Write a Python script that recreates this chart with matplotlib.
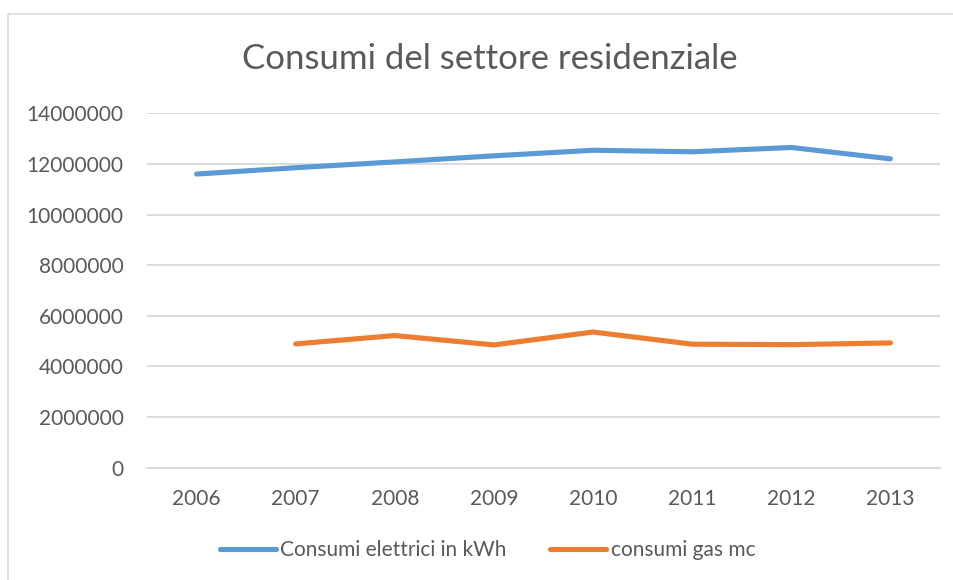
"""Consumi del settore residenziale - linee elettrico e gas"""

import numpy as np
import matplotlib
matplotlib.use("Agg")
import matplotlib.pyplot as plt
from matplotlib.patches import Rectangle

years = ["2006", "2007", "2008", "2009", "2010", "2011", "2012", "2013"]
elettrici_kwh = [11600000, 11850000, 12080000, 12320000, 12540000, 12480000, 12650000, 12200000]
gas_mc = [np.nan, 4890000, 5220000, 4850000, 5360000, 4880000, 4860000, 4930000]
yticks = [0, 2000000, 4000000, 6000000, 8000000, 10000000, 12000000, 14000000]


def main():
    plt.rcParams["font.family"] = ["Lato", "DejaVu Sans"]
    fig = plt.figure(figsize=(9.54, 5.8), dpi=100)
    fig.patches.append(Rectangle((8.5 / 954, -0.1), 1.2, 1.1 - 14.5 / 580,
                                 transform=fig.transFigure, fill=False,
                                 edgecolor="#d9d9d9", linewidth=1.2))

    ax = fig.add_axes([147 / 954, 1 - 467.7 / 580, 793 / 954, 354.4 / 580])
    x = np.arange(len(years))
    ax.plot(x, elettrici_kwh, color="#5b9bd5", linewidth=3.7,
            solid_capstyle="round", label="Consumi elettrici in kWh")
    ax.plot(x, gas_mc, color="#ed7d31", linewidth=3.7,
            solid_capstyle="round", label="consumi gas mc")

    ax.set_xlim(-0.5, len(years) - 0.5)
    ax.set_ylim(0, 14000000)
    ax.set_xticks(x)
    ax.set_xticklabels(years)
    ax.set_yticks(yticks)
    ax.set_yticklabels([str(v) for v in yticks])
    ax.tick_params(length=0, labelsize=15, labelcolor="#595959")
    ax.tick_params(axis="x", pad=15)
    ax.tick_params(axis="y", pad=17)
    ax.grid(axis="y", color="#d9d9d9", linewidth=1.3)
    ax.set_axisbelow(True)
    for side in ["top", "right", "left"]:
        ax.spines[side].set_visible(False)
    ax.spines["bottom"].set_color("#d9d9d9")
    ax.spines["bottom"].set_linewidth(1.3)

    fig.text(0.513, 0.898, "Consumi del settore residenziale", ha="center", va="center",
             fontsize=25, color="#595959")

    fig.legend(loc="center", bbox_to_anchor=(0.511, 0.052), ncol=2, frameon=False,
               fontsize=15, labelcolor="#595959", handlelength=2.7,
               handletextpad=0.2, columnspacing=2.1)

    fig.savefig("out.png", dpi=100)


main()
